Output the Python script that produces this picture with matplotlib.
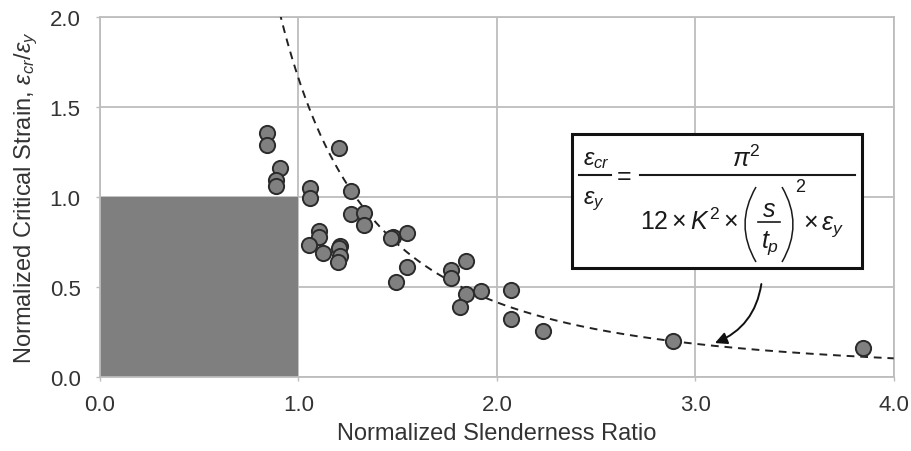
import numpy as np
import matplotlib
matplotlib.use("Agg")
import matplotlib.pyplot as plt
from matplotlib.patches import Rectangle, PathPatch
from matplotlib.lines import Line2D
from matplotlib.path import Path

plt.rcParams["font.family"] = ["Liberation Sans", "DejaVu Sans"]
plt.rcParams["mathtext.fontset"] = "custom"
plt.rcParams["mathtext.rm"] = "Liberation Sans"
plt.rcParams["mathtext.it"] = "Liberation Sans:italic"
plt.rcParams["mathtext.bf"] = "Liberation Sans:bold"

# Test results: normalized slenderness vs normalized critical strain
slenderness = [0.842, 0.842, 0.907, 0.887, 0.887, 1.203, 1.058, 1.058, 1.263, 1.263,
               1.328, 1.328, 1.103, 1.103, 1.053, 1.124, 1.211, 1.203, 1.211, 1.198,
               1.475, 1.547, 1.465, 1.547, 1.490, 1.771, 1.845, 1.771, 1.846, 1.921,
               1.812, 2.073, 2.073, 2.233, 2.887, 3.843]
critical_strain = [1.356, 1.289, 1.161, 1.094, 1.061, 1.272, 1.050, 0.994, 1.033, 0.906,
                   0.911, 0.844, 0.811, 0.778, 0.733, 0.689, 0.729, 0.717, 0.674, 0.639,
                   0.776, 0.798, 0.770, 0.611, 0.526, 0.596, 0.644, 0.550, 0.459, 0.478,
                   0.391, 0.485, 0.322, 0.257, 0.200, 0.159]

# Elastic buckling prediction: eps_cr/eps_y = C / lambda^2
curve_coeff = 1.66
x_ticks = [0.0, 1.0, 2.0, 3.0, 4.0]
y_ticks = [0.0, 0.5, 1.0, 1.5, 2.0]

W, H = 911, 452
fig = plt.figure(figsize=(W / 100, H / 100), dpi=100)
ax = fig.add_axes([0.1098, 0.1637, 0.8712, 0.7963])

grid_c = "#bdbdbd"
txt_c = "#333333"
ax.set_xlim(0, 4)
ax.set_ylim(0, 2)
ax.set_xticks(x_ticks)
ax.set_yticks(y_ticks)
ax.set_xticklabels([f"{v:.1f}" for v in x_ticks])
ax.set_yticklabels([f"{v:.1f}" for v in y_ticks])
ax.grid(True, color=grid_c, linewidth=1.3)
ax.set_axisbelow(True)
for s in ax.spines.values():
    s.set_color(grid_c)
    s.set_linewidth(1.3)
ax.tick_params(axis="both", colors=grid_c, length=3, width=1.0,
               labelsize=16, labelcolor=txt_c)
ax.tick_params(axis="x", pad=9)
ax.tick_params(axis="y", pad=11)

# Yield plateau region
ax.add_patch(Rectangle((0, 0), 1.0, 1.0, facecolor="#7f7f7f", edgecolor="none", zorder=1.5))

xc = np.linspace(0.85, 4.0, 400)
ax.plot(xc, curve_coeff / xc**2, linestyle=(0, (4, 3)), color="#222222", linewidth=1.4, zorder=3)

ax.scatter(slenderness, critical_strain, s=120, facecolor="#808080",
           edgecolor="#2b2b2b", linewidth=1.4, zorder=4, clip_on=False)

ax.set_xlabel("Normalized Slenderness Ratio", fontsize=17, color=txt_c, labelpad=5)
ax.set_ylabel(r"Normalized Critical Strain, $\varepsilon_{cr}/\varepsilon_{y}$",
              fontsize=17, color=txt_c, labelpad=7)

# Equation box
bx0, by0, bx1, by1 = 2.378, 0.608, 3.84, 1.348
ax.add_patch(Rectangle((bx0, by0), bx1 - bx0, by1 - by0, facecolor="white",
                       edgecolor="#111111", linewidth=2.2, zorder=5))


def fp(x, y):
    """Pixel position (from top-left) to figure fraction."""
    return x / W, 1 - y / H


eq_c = "#1a1a1a"


def put(x, y, s, size=18, ha="center"):
    fx, fy = fp(x, y)
    fig.text(fx, fy, s, fontsize=size, ha=ha, va="baseline", color=eq_c, zorder=10)


def bar(x0, x1, y, lw=1.5):
    (a, b), (c, d) = fp(x0, y), fp(x1, y)
    fig.add_artist(Line2D([a, c], [b, d], color=eq_c, linewidth=lw, zorder=10))


def paren(x_end, x_ctrl, y0, y1):
    ym = (y0 + y1) / 2
    verts = [fp(x_end, y0), fp(x_ctrl, ym), fp(x_end, y1)]
    path = Path(verts, [Path.MOVETO, Path.CURVE3, Path.CURVE3])
    fig.add_artist(PathPatch(path, facecolor="none", edgecolor=eq_c, linewidth=1.1,
                             transform=fig.transFigure, zorder=10))


# left-hand side
put(596, 165, r"$\varepsilon_{cr}$", size=17)
bar(579, 611, 176)
put(594, 204, r"$\varepsilon_{y}$", size=17)
put(624, 184, "=", size=18)
# right-hand side
bar(640, 855, 176)
put(746, 167, r"$\pi^{2}$", size=18)
put(640, 230, r"$12\times K^{2}\times$", size=18, ha="left")
paren(756, 734, 188, 263)
put(769, 217, r"$s$", size=18)
bar(758, 780, 223, lw=1.2)
put(770, 248, r"$t_{p}$", size=18)
paren(782, 804, 188, 263)
put(800, 192, "2", size=13)
put(803, 230, r"$\times\,\varepsilon_{y}$", size=18, ha="left")

ax.annotate("", xy=(3.086, 0.183), xytext=(3.335, 0.532),
            arrowprops=dict(arrowstyle="-|>", color="#111111", lw=1.4,
                            mutation_scale=18,
                            connectionstyle="arc3,rad=-0.3"), zorder=6)

fig.savefig("out.png", dpi=100)
